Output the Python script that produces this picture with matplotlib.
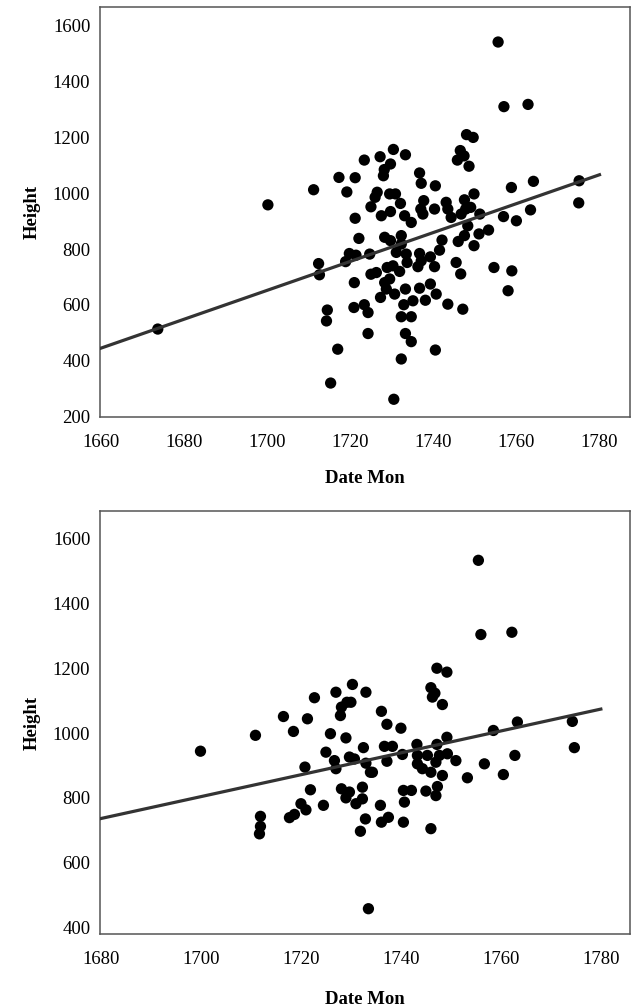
import matplotlib
matplotlib.use("Agg")
import matplotlib.pyplot as plt
import numpy as np

# upper panel: all sitters
top_year = [1723.4, 1717.3, 1721.2, 1711.2, 1719.2, 1700.2, 1721.2, 1725.0, 1755.6, 1757.0,
            1762.8, 1748.0, 1749.6, 1746.5, 1747.4, 1745.8, 1748.6, 1730.4, 1727.2, 1733.3,
            1729.7, 1728.2, 1728.0, 1736.7, 1737.1, 1740.5, 1726.5, 1729.5, 1730.9, 1726.0,
            1732.1, 1737.7, 1737.0, 1740.3, 1743.1, 1747.5, 1749.8, 1758.8, 1764.1, 1775.1,
            1775.0, 1763.4, 1756.9, 1760.0, 1729.7, 1727.5,
            1722.1, 1719.8, 1721.4, 1718.9, 1712.4, 1712.6, 1724.7, 1721.0, 1720.9, 1723.4,
            1724.3, 1714.5, 1714.3, 1724.3, 1717.0, 1715.3, 1673.7, 1725.0,
            1730.5, 1732.3, 1740.5, 1733.3, 1734.7, 1732.3, 1734.7, 1732.9, 1735.1, 1738.1,
            1743.5, 1747.1, 1740.7, 1739.3, 1736.7, 1733.3, 1727.3, 1730.7, 1728.7, 1728.3,
            1729.5, 1726.3, 1731.9, 1728.9, 1730.3, 1736.3, 1740.3, 1737.1, 1739.3, 1733.7,
            1736.7, 1733.5, 1731.1, 1732.3, 1728.3, 1729.7, 1732.3, 1745.5, 1746.6, 1754.6,
            1758.9, 1758.0, 1741.5, 1742.1, 1746.0, 1747.5, 1749.8, 1751.0, 1753.3, 1748.3,
            1751.2, 1744.3, 1746.7, 1749.0, 1737.5, 1734.7, 1733.1, 1743.5, 1747.8]
top_height = [1118, 1056, 1055, 1012, 1004, 958, 910, 951, 1540, 1309,
              1317, 1209, 1199, 1152, 1133, 1118, 1096, 1156, 1130, 1137,
              1104, 1084, 1062, 1072, 1035, 1026, 1003, 997, 997, 985,
              963, 973, 943, 943, 967, 976, 997, 1020, 1042, 1044,
              965, 940, 916, 901, 934, 919,
              838, 784, 778, 755, 748, 708, 782, 680, 591, 601,
              573, 582, 543, 498, 442, 321, 514, 710,
              263, 407, 439, 498, 469, 558, 558, 601, 615, 617,
              603, 585, 639, 675, 660, 657, 627, 639, 657, 680,
              693, 716, 720, 734, 740, 737, 737, 758, 772, 752,
              784, 782, 788, 818, 842, 830, 848, 752, 711, 734,
              722, 651, 796, 832, 827, 848, 812, 854, 868, 883,
              925, 913, 925, 949, 925, 895, 919, 943, 943]

# lower panel
bot_year = [1755.5, 1756.0, 1762.2, 1747.2, 1749.2, 1746.0, 1746.8, 1746.3, 1748.3, 1730.3,
            1733.0, 1730.0, 1736.1, 1737.2, 1740.0, 1749.2, 1758.5, 1763.3, 1774.3,
            1727.0, 1729.2, 1728.1, 1727.9, 1722.7, 1716.5, 1721.3, 1710.9, 1718.5, 1725.9,
            1729.0, 1699.9, 1732.5, 1725.0, 1726.7, 1729.7, 1730.7, 1727.0, 1720.8, 1733.0,
            1733.9, 1721.9, 1728.1, 1729.7, 1732.3, 1729.0, 1732.3, 1731.0, 1724.5, 1720.0,
            1721.0, 1718.7, 1717.7, 1711.9, 1711.9, 1711.7, 1732.9, 1731.9, 1733.5,
            1774.7, 1762.8, 1760.5, 1756.7, 1753.3, 1751.0, 1736.7, 1738.3, 1743.2, 1747.2,
            1749.3, 1743.3, 1745.3, 1747.7, 1740.3, 1737.2, 1743.3, 1744.3, 1746.0, 1748.3,
            1747.0, 1734.3, 1735.9, 1740.5, 1742.1, 1745.0, 1747.3, 1747.0, 1740.7, 1737.5,
            1736.1, 1740.5, 1746.0]
bot_height = [1533, 1304, 1311, 1200, 1188, 1140, 1123, 1111, 1088, 1150,
              1126, 1095, 1067, 1027, 1015, 987, 1008, 1034, 1036,
              1126, 1095, 1080, 1054, 1109, 1051, 1044, 993, 1005, 998,
              985, 944, 955, 941, 915, 926, 920, 890, 895, 907,
              879, 825, 828, 818, 833, 800, 797, 782, 777, 782,
              763, 749, 739, 743, 712, 689, 735, 697, 458,
              955, 931, 872, 905, 862, 915, 959, 959, 965, 965,
              936, 931, 931, 931, 934, 913, 905, 890, 879, 869,
              910, 879, 777, 823, 823, 821, 835, 807, 787, 740,
              725, 725, 705]

plt.rcParams['font.family'] = ['Liberation Serif', 'DejaVu Serif']

fig = plt.figure(figsize=(6.33, 10.07), dpi=100)
ax_top = fig.add_axes([0.158, 0.586, 0.837, 0.407])
ax_bot = fig.add_axes([0.158, 0.0725, 0.837, 0.42])


def panel(ax, x, y, xlim, ylim, line_start, xlabelpad):
    x = np.array(x)
    y = np.array(y)
    ax.scatter(x, y, s=66, c='black', edgecolors='none', zorder=2)
    # least squares line over the span of the x ticks
    slope, icpt = np.polyfit(x, y, 1)
    xs = np.array([line_start, 1780])
    ax.plot(xs, slope * xs + icpt, color='#333333', lw=2.3, zorder=3)
    ax.set_xlim(*xlim)
    ax.set_ylim(*ylim)
    ax.tick_params(length=0, labelsize=13.5)
    ax.tick_params(axis='x', pad=12)
    ax.tick_params(axis='y', pad=7)
    for s in ax.spines.values():
        s.set_color('#555555')
        s.set_linewidth(1.1)
    ax.set_xlabel('Date Mon', fontsize=13.5, fontweight='bold', labelpad=xlabelpad)
    ax.set_ylabel('Height', fontsize=13.5, fontweight='bold', labelpad=9)


panel(ax_top, top_year, top_height, (1659.8, 1787.3), (200, 1665), 1660, 14)
ax_top.set_xticks(np.arange(1660, 1781, 20))
ax_top.set_yticks(np.arange(200, 1601, 200))

panel(ax_bot, bot_year, bot_height, (1679.8, 1785.8), (380, 1685), 1680, 17)
ax_bot.set_xticks(np.arange(1680, 1781, 20))
ax_bot.set_yticks(np.arange(400, 1601, 200))

fig.savefig('out.png', dpi=100)
